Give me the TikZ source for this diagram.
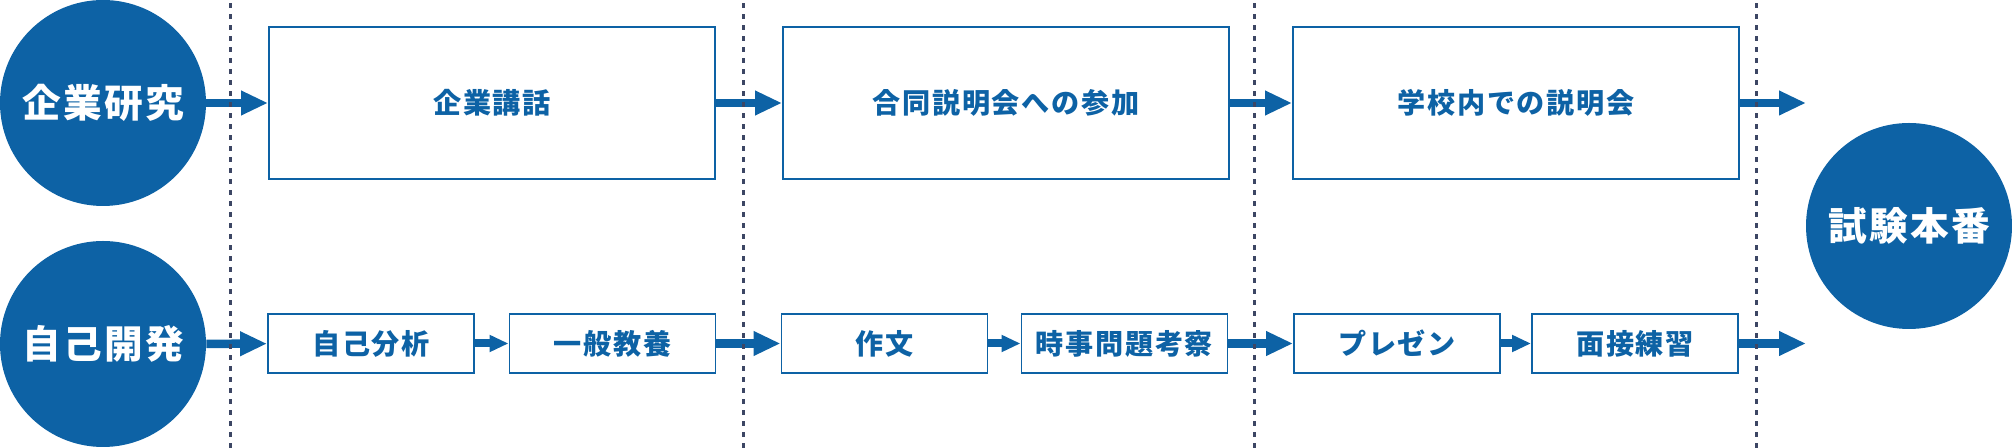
\documentclass[tikz,border=0pt]{standalone}
\usepackage{fontspec}
\setmainfont{Noto Sans CJK JP}[LetterSpace=6]
\usepackage{tikz}
\usetikzlibrary{arrows.meta,positioning}
\definecolor{flowblue}{RGB}{13,98,165}
\definecolor{sepgray}{RGB}{60,70,100}

\begin{document}
\begin{tikzpicture}[
    circ/.style={circle, fill=flowblue, minimum size=4.12cm, inner sep=0pt, text=white, font=\fontsize{22}{26}\selectfont\bfseries},
    topbox/.style={draw=flowblue, line width=1.1pt, minimum width=8.92cm, minimum height=3.04cm, text=flowblue, font=\fontsize{16}{19}\selectfont\bfseries},
    subbox/.style={draw=flowblue, line width=1.1pt, minimum width=4.12cm, minimum height=1.18cm, text=flowblue, font=\fontsize{16}{19}\selectfont\bfseries},
    bigarrow/.style={draw=flowblue, line width=0.17cm, -{Triangle[length=0.54cm, width=0.46cm]}},
    smallarrow/.style={draw=flowblue, line width=0.16cm, -{Triangle[length=0.38cm, width=0.32cm]}},
    divider/.style={draw=sepgray, line width=0.06cm, dash pattern=on 0.09cm off 0.13cm}
]
    \useasboundingbox (0,0) rectangle (40.24,8.96);
    % Start and goal
    \node[circ] (research) at (2.06,6.9) {企業研究};
    \node[circ] (selfdev) at (2.06,2.08) {自己開発};
    \node[circ] (exam) at (38.18,4.44) {試験本番};
    % Upper row
    \node[topbox] (lecture) at (9.84,6.9) {企業講話};
    \node[topbox] (fair) at (20.12,6.9) {合同説明会への参加};
    \node[topbox] (school) at (30.32,6.9) {学校内での説明会};
    \coordinate (topend) at (36.12,6.9);
    % Lower row
    \node[subbox] (analysis) at (7.42,2.09) {自己分析};
    \node[subbox] (general) at (12.25,2.09) {一般教養};
    \node[subbox] (essay) at (17.69,2.09) {作文};
    \node[subbox] (news) at (22.49,2.09) {時事問題考察};
    \node[subbox] (present) at (27.94,2.09) {プレゼン};
    \node[subbox] (interview) at (32.70,2.09) {面接練習};
    \coordinate (lowend) at (36.12,2.09);
    % Arrows
    \draw[bigarrow] (research) -- (lecture);
    \draw[bigarrow] (lecture) -- (fair);
    \draw[bigarrow] (fair) -- (school);
    \draw[bigarrow] (school) -- (topend);
    \draw[bigarrow] (selfdev) -- (analysis);
    \draw[smallarrow] (analysis) -- (general);
    \draw[bigarrow] (general) -- (essay);
    \draw[smallarrow] (essay) -- (news);
    \draw[bigarrow] (news) -- (present);
    \draw[smallarrow] (present) -- (interview);
    \draw[bigarrow] (interview) -- (lowend);
    % Dividers
    \foreach \x in {4.6, 14.86, 25.08, 35.12}
        \draw[divider] (\x,0) -- (\x,8.96);
\end{tikzpicture}
\end{document}
